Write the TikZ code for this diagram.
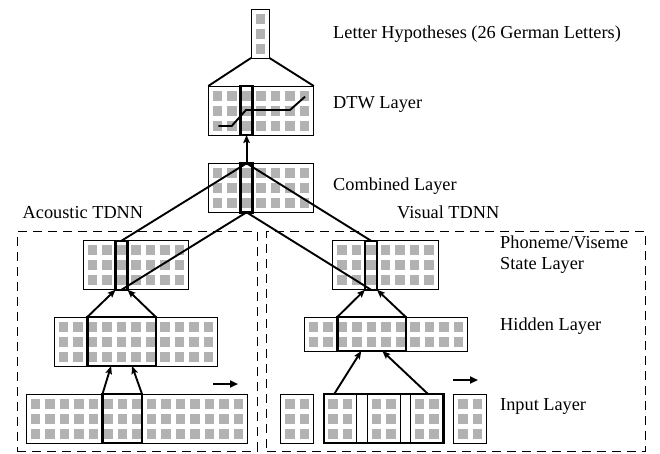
\documentclass[tikz,border=0pt]{standalone}
\usepackage{fontspec}
\setmainfont{Liberation Serif}
\usetikzlibrary{arrows.meta,calc}
\tikzset{
  boxst/.style={draw=black, line width=0.9pt, inner sep=0pt, outer sep=0pt, fill=white},
  cellst/.style={fill=black!30},
  hlst/.style={draw=black, line width=2.4pt, inner sep=0pt, outer sep=0pt},
  conn/.style={draw=black, line width=1.9pt},
  arr/.style={conn, -{Stealth[length=8pt,width=6.5pt,inset=1.5pt]}},
  dashbox/.style={draw=black, line width=1.3pt, dash pattern=on 9pt off 6pt},
  lbl/.style={font=\fontsize{18.3}{21}\selectfont, anchor=base west, inner sep=0pt}
}
\newcommand{\gridlayer}[5]{%
  \node[boxst, minimum width={14.5*#4+4}, minimum height={15*#5+4}, anchor=north west] (#1) at (#2,#3) {};
  \foreach \ci in {1,...,#4}{\foreach \cj in {1,...,#5}{%
    \fill[cellst] ({#2+4.5+14.5*(\ci-1)},{#3+4.5+15*(\cj-1)}) rectangle ++(9.5,10);
  }}%
}
\newcommand{\hlbox}[5]{%
  \node[hlst, minimum width={#4-#2}, minimum height={#5-#3}, anchor=north west] (#1) at (#2,#3) {};%
}
\begin{document}
\begin{tikzpicture}[x=1pt,y=-1pt]
\useasboundingbox[fill=white] (0,0) rectangle (660,453);

% dashed frames
\node[dashbox, inner sep=0, minimum width=240, minimum height=219.7, anchor=north west] (acframe) at (16.7,231) {};
\node[dashbox, inner sep=0, minimum width=379, minimum height=219.7, anchor=north west] (viframe) at (266,231) {};

% layers
\gridlayer{letter}{251}{9}{1}{3}
\gridlayer{dtw}{208.3}{86}{7}{3}
\gridlayer{comb}{208.3}{163.3}{7}{3}
\gridlayer{aph}{83.3}{240.7}{7}{3}
\gridlayer{vph}{332.7}{240.7}{7}{3}
\gridlayer{ahid}{54.3}{317}{11}{3}
\gridlayer{vhid}{304.3}{317}{11}{2}
\gridlayer{ain}{26}{394}{15}{3}
\gridlayer{vin1}{280.7}{394}{2}{3}
\gridlayer{vin2}{323.9}{394}{2}{3}
\gridlayer{vin3}{367.1}{394}{2}{3}
\gridlayer{vin4}{410.3}{394}{2}{3}
\gridlayer{vin5}{453.5}{394}{2}{3}

% highlights
\hlbox{dtwh}{240.6}{86}{252.5}{135}
\hlbox{combh}{240.6}{163.3}{252.5}{212.3}
\hlbox{aphh}{115.6}{240.7}{127.5}{289.7}
\hlbox{vphh}{365}{240.7}{376.9}{289.7}
\hlbox{ahidh}{87.3}{317}{155.8}{366}
\hlbox{vhidh}{337.3}{317}{405.8}{351}
\hlbox{ainh}{102.5}{394}{142}{443}
\hlbox{vinh}{323.9}{394}{443.3}{443}

% letter box to DTW
\draw[conn] (letter.south west) -- (dtw.north west);
\draw[conn] (letter.south east) -- (dtw.north east);

% DTW path
\draw[conn, line join=miter] (218.3,126) -- (231.7,126) -- (246,110) -- (290,110) -- (305,96.7);

% combined to DTW
\draw[arr] (combh.north) -- (dtwh.south);

% phoneme to combined
\draw[conn] (aphh.north) -- (combh.north);
\draw[conn] (aphh.south) -- (combh.south);
\draw[conn] (vphh.north) -- (combh.north);
\draw[conn] (vphh.south) -- (combh.south);

% hidden to phoneme
\draw[arr] (ahidh.north west) -- (aphh.south west);
\draw[arr] (ahidh.north east) -- (aphh.south east);
\draw[arr] (vhidh.north west) -- (vphh.south west);
\draw[arr] (vhidh.north east) -- (vphh.south east);

% input to hidden
\draw[arr] (ainh.north west) -- ($(ahidh.south)+(-10.5,0)$);
\draw[arr] (ainh.north east) -- ($(ahidh.south)+(10.5,0)$);
\draw[arr] ($(vinh.north west)+(10.3,0)$) -- ($(vhidh.south)+(-10.3,0)$);
\draw[arr] ($(vinh.north east)+(-15.3,0)$) -- ($(vhidh.south)+(10.8,0)$);

% time arrows
\coordinate (at0) at (213.3,384);
\coordinate (at1) at (238,384);
\coordinate (vt0) at (453.3,380);
\coordinate (vt1) at (478,380);
\draw[arr, -{Stealth[length=8pt,width=7pt,inset=0pt]}] (at0) -- (at1);
\draw[arr, -{Stealth[length=8pt,width=7pt,inset=0pt]}] (vt0) -- (vt1);

% labels
\node[lbl] (tletter) at (333,38.5) {Letter Hypotheses (26 German Letters)};
\node[lbl] (tdtw) at (333,108.5) {DTW Layer};
\node[lbl] (tcomb) at (333,190.5) {Combined Layer};
\node[lbl] (tac) at (22.5,218.5) {Acoustic TDNN};
\node[lbl] (tvi) at (397,218.5) {Visual TDNN};
\node[lbl] (tph) at (500,248.5) {Phoneme/Viseme};
\node[lbl] (tst) at (500,269) {State Layer};
\node[lbl] (thid) at (500,330.5) {Hidden Layer};
\node[lbl] (tin) at (500,410.5) {Input Layer};
\end{tikzpicture}
\end{document}
